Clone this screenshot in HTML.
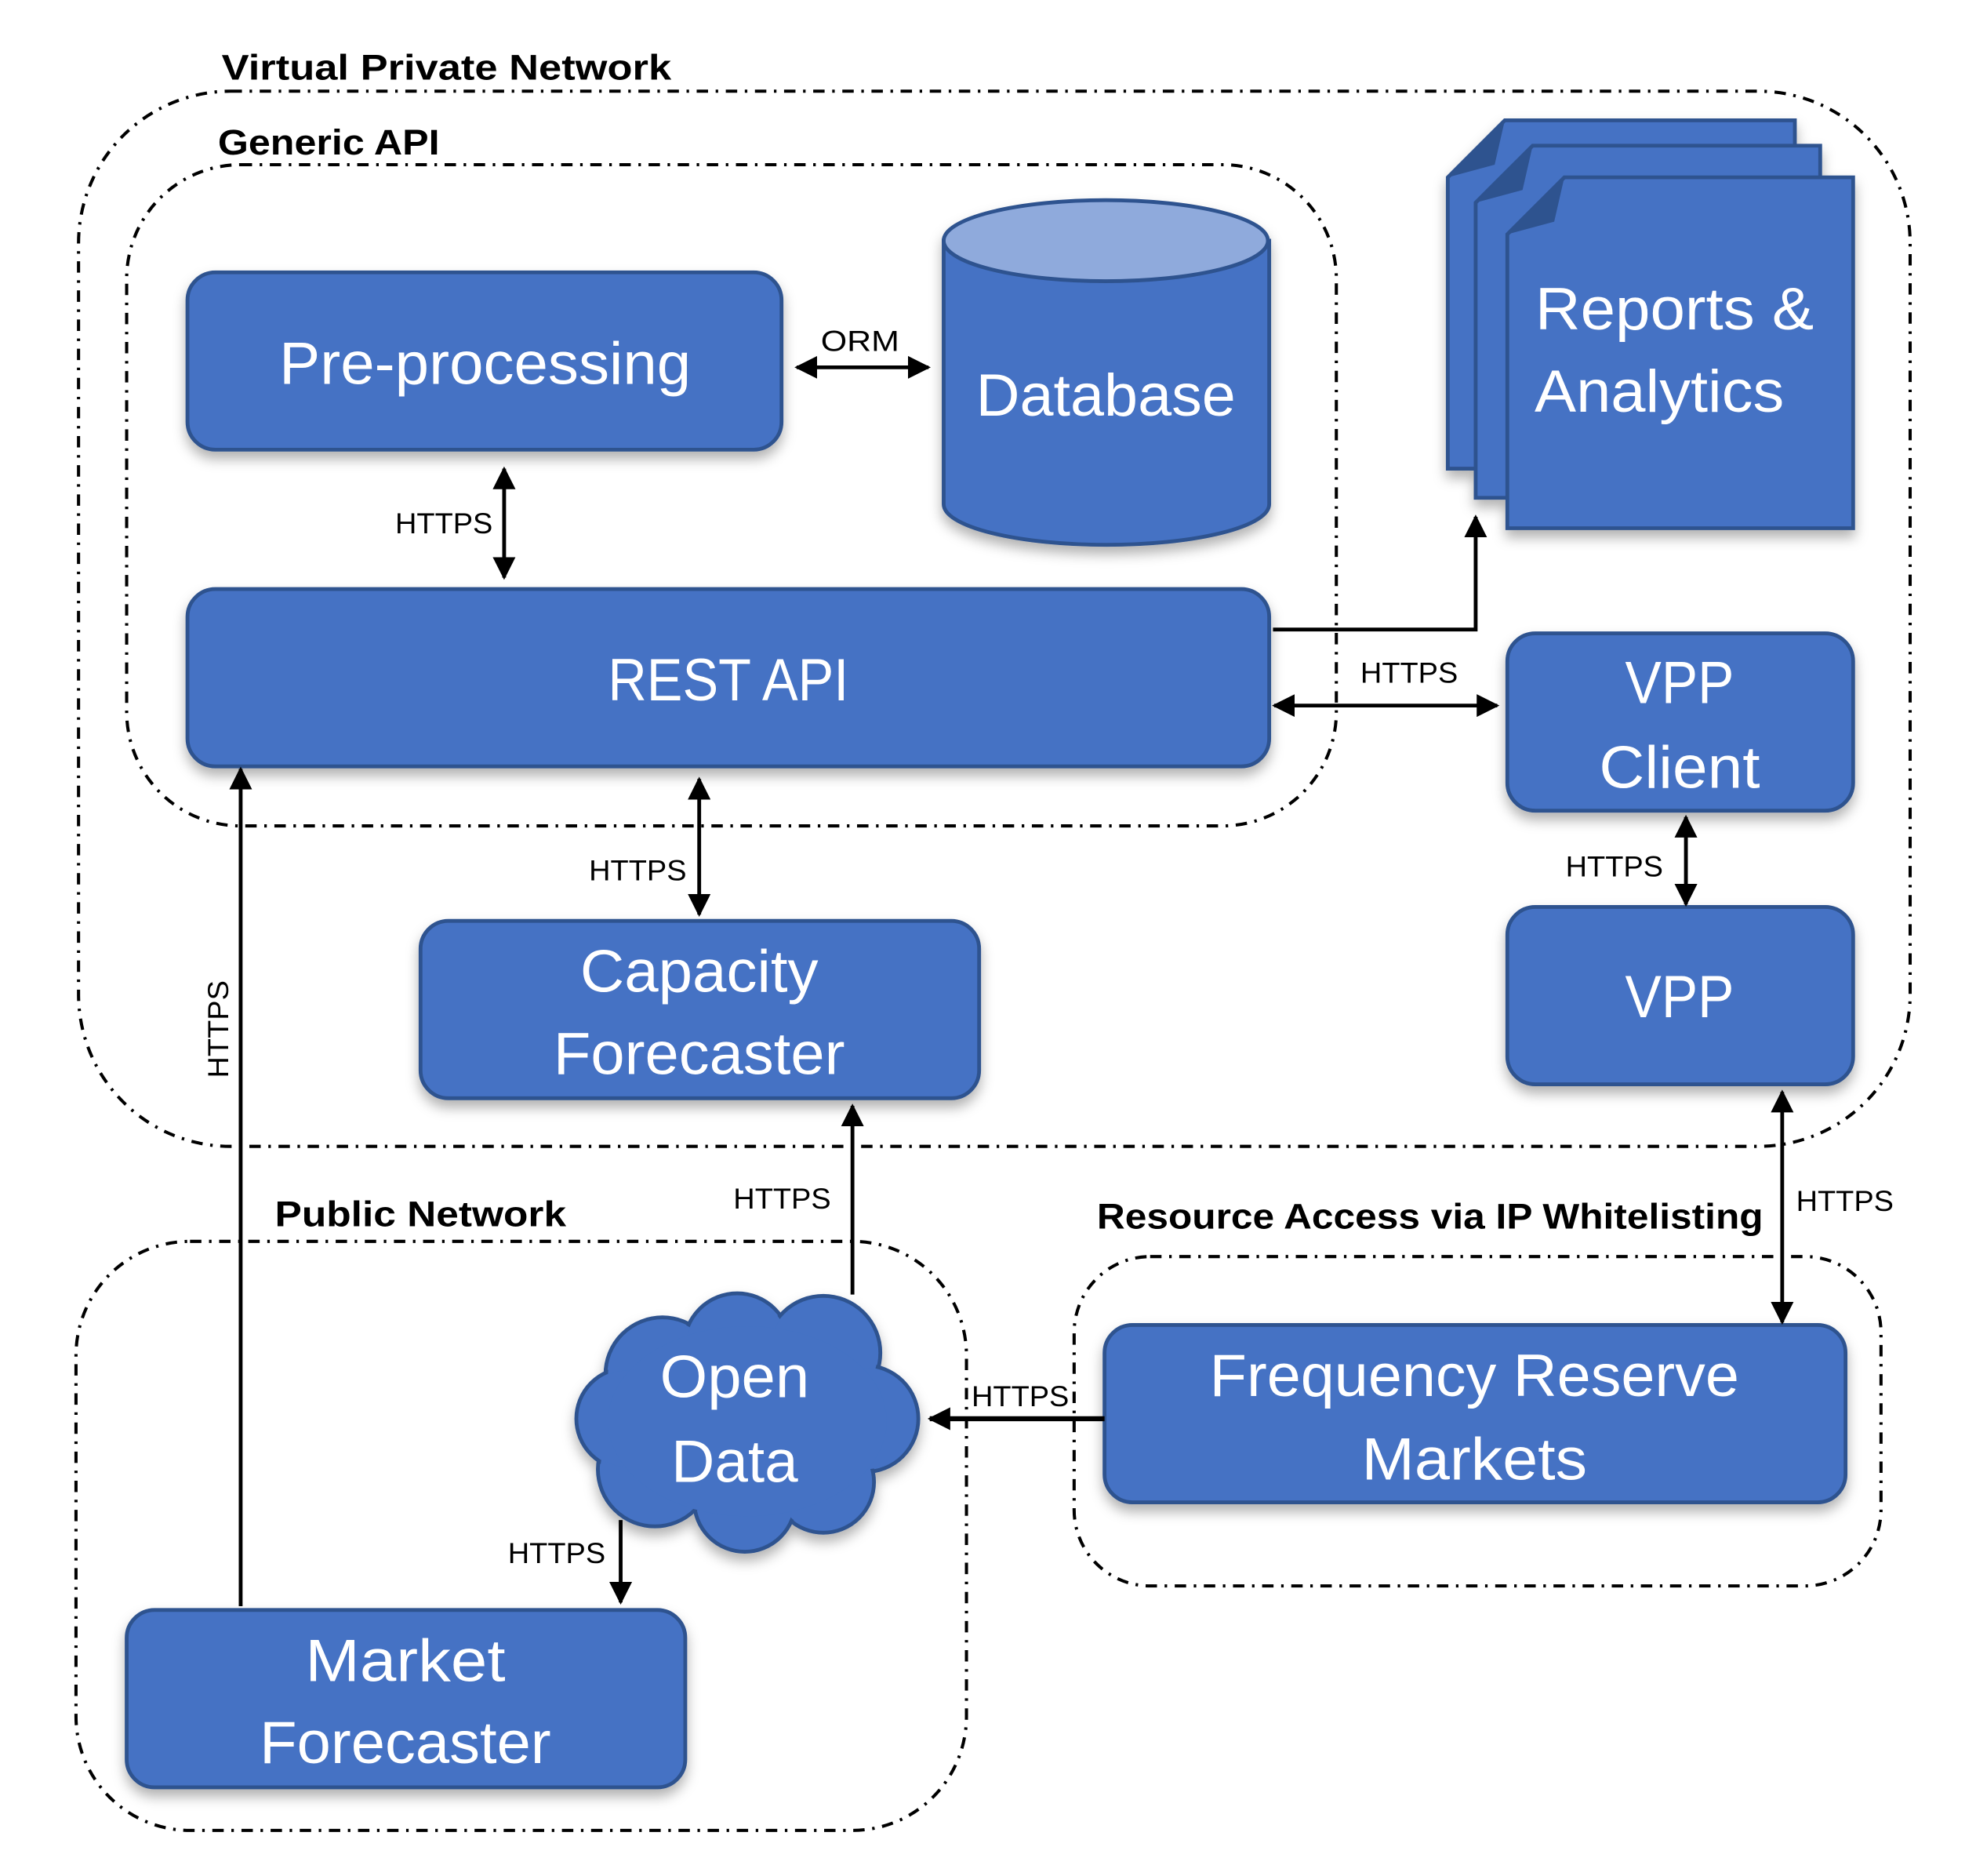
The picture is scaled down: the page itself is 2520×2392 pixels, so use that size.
<!DOCTYPE html>
<html><head><meta charset="utf-8"><style>
html,body{margin:0;padding:0;background:#fff;}
svg{display:block;}
.lbl{font-family:"Liberation Sans",sans-serif;font-weight:bold;font-size:28px;fill:#000;}
.sm{font-family:"Liberation Sans",sans-serif;font-size:23px;fill:#000;}
.big{font-family:"Liberation Sans",sans-serif;font-size:47px;fill:#fff;text-anchor:middle;}
.box{fill:#4472C4;stroke:#2F528F;stroke-width:3;}
.grp{fill:none;stroke:#000;stroke-width:2.5;stroke-dasharray:9 6 2 6;}
.ln{stroke:#000;stroke-width:3;fill:none;}
</style></head><body>
<svg width="2520" height="2392" viewBox="0 0 1560 1481" preserveAspectRatio="none" xmlns="http://www.w3.org/2000/svg">
<defs>
<marker id="ah2" viewBox="0 0 10 10" markerWidth="18" markerHeight="18" refX="9" refY="5" orient="auto-start-reverse" markerUnits="userSpaceOnUse"><path d="M0,0 L10,5 L0,10 z" fill="#000"/></marker>
<filter id="sh" x="-10%" y="-10%" width="120%" height="130%"><feDropShadow dx="0" dy="6" stdDeviation="5" flood-color="#000" flood-opacity="0.3"/></filter>
</defs>

<!-- groups -->
<text class="lbl" x="175" y="63" textLength="355" lengthAdjust="spacingAndGlyphs">Virtual Private Network</text>
<rect class="grp" x="62" y="72" width="1446" height="833" rx="120"/>
<text class="lbl" x="172" y="122" textLength="175" lengthAdjust="spacingAndGlyphs">Generic API</text>
<rect class="grp" x="100" y="130" width="955" height="522" rx="90"/>
<text class="lbl" x="217" y="968" textLength="230" lengthAdjust="spacingAndGlyphs">Public Network</text>
<rect class="grp" x="60" y="980" width="703" height="465" rx="90"/>
<text class="lbl" x="866" y="970" textLength="526" lengthAdjust="spacingAndGlyphs">Resource Access via IP Whitelisting</text>
<rect class="grp" x="848" y="992" width="637" height="260" rx="60"/>

<!-- boxes -->
<g filter="url(#sh)">
<rect class="box" x="148" y="215" width="469" height="140" rx="22"/>
<rect class="box" x="148" y="465" width="854" height="140" rx="22"/>
<rect class="box" x="1190" y="500" width="273" height="140" rx="22"/>
<rect class="box" x="1190" y="716" width="273" height="140" rx="22"/>
<rect class="box" x="332" y="727" width="441" height="140" rx="22"/>
<rect class="box" x="872" y="1046" width="585" height="140" rx="22"/>
<rect class="box" x="100" y="1271" width="441" height="140" rx="22"/>
<path class="box" d="M745,190 L745,398 A128,32 0 0 0 1002,398 L1002,190 Z"/>
<ellipse cx="873" cy="190" rx="128" ry="32" fill="#8FAADC" stroke="#2F528F" stroke-width="3"/>
<path class="box" d="M1188,95 L1417,95 L1417,370 L1143,370 L1143,140 Z"/>
<path fill="#2F528F" d="M1188,95 L1143,140 L1180,130 Z"/>
<path class="box" d="M1210,115 L1437,115 L1437,393 L1165,393 L1165,160 Z"/>
<path fill="#2F528F" d="M1210,115 L1165,160 L1202,150 Z"/>
<path class="box" d="M1235,140 L1463,140 L1463,417 L1190,417 L1190,185 Z"/>
<path fill="#2F528F" d="M1235,140 L1190,185 L1227,175 Z"/>
<g stroke="#2F528F" stroke-width="3" fill="#4472C4">
<circle cx="523" cy="1085" r="45"/><circle cx="582" cy="1063" r="42"/><circle cx="650" cy="1068" r="45"/>
<circle cx="683" cy="1120" r="42"/><circle cx="650" cy="1170" r="40"/><circle cx="588" cy="1185" r="40"/>
<circle cx="517" cy="1160" r="45"/><circle cx="495" cy="1120" r="40"/>
</g>
<g fill="#4472C4">
<circle cx="523" cy="1085" r="43"/><circle cx="582" cy="1063" r="40"/><circle cx="650" cy="1068" r="43"/>
<circle cx="683" cy="1120" r="40"/><circle cx="650" cy="1170" r="38"/><circle cx="588" cy="1185" r="38"/>
<circle cx="517" cy="1160" r="43"/><circle cx="495" cy="1120" r="38"/><ellipse cx="590" cy="1122" rx="110" ry="75"/>
</g>
</g>

<!-- texts -->
<text class="big" x="383" y="303" textLength="325" lengthAdjust="spacingAndGlyphs">Pre-processing</text>
<text class="big" x="873" y="328" textLength="205" lengthAdjust="spacingAndGlyphs">Database</text>
<text class="big" x="1322" y="260" textLength="220" lengthAdjust="spacingAndGlyphs">Reports &amp;</text>
<text class="big" x="1310" y="325" textLength="197" lengthAdjust="spacingAndGlyphs">Analytics</text>
<text class="big" x="575" y="553" textLength="190" lengthAdjust="spacingAndGlyphs">REST API</text>
<text class="big" x="1326" y="555" textLength="86" lengthAdjust="spacingAndGlyphs">VPP</text>
<text class="big" x="1326" y="622" textLength="127" lengthAdjust="spacingAndGlyphs">Client</text>
<text class="big" x="1326" y="803" textLength="86" lengthAdjust="spacingAndGlyphs">VPP</text>
<text class="big" x="552" y="783" textLength="188" lengthAdjust="spacingAndGlyphs">Capacity</text>
<text class="big" x="552" y="848" textLength="230" lengthAdjust="spacingAndGlyphs">Forecaster</text>
<text class="big" x="1164" y="1102" textLength="418" lengthAdjust="spacingAndGlyphs">Frequency Reserve</text>
<text class="big" x="1164" y="1168" textLength="178" lengthAdjust="spacingAndGlyphs">Markets</text>
<text class="big" x="320" y="1327" textLength="158" lengthAdjust="spacingAndGlyphs">Market</text>
<text class="big" x="320" y="1392" textLength="230" lengthAdjust="spacingAndGlyphs">Forecaster</text>
<text class="big" x="580" y="1103" textLength="118" lengthAdjust="spacingAndGlyphs">Open</text>
<text class="big" x="580" y="1170" textLength="100" lengthAdjust="spacingAndGlyphs">Data</text>

<!-- connectors -->
<g class="ln">
<line x1="629" y1="290" x2="733" y2="290" marker-start="url(#ah2)" marker-end="url(#ah2)"/>
<line x1="398" y1="370" x2="398" y2="456" marker-start="url(#ah2)" marker-end="url(#ah2)"/>
<polyline points="1005,497 1165,497 1165,408" marker-end="url(#ah2)"/>
<line x1="1006" y1="557" x2="1182" y2="557" marker-start="url(#ah2)" marker-end="url(#ah2)"/>
<line x1="552" y1="615" x2="552" y2="722" marker-start="url(#ah2)" marker-end="url(#ah2)"/>
<line x1="1331" y1="645" x2="1331" y2="714" marker-start="url(#ah2)" marker-end="url(#ah2)"/>
<line x1="190" y1="1268" x2="190" y2="607" marker-end="url(#ah2)"/>
<line x1="673" y1="1022" x2="673" y2="873" marker-end="url(#ah2)"/>
<line x1="1407" y1="862" x2="1407" y2="1044" marker-start="url(#ah2)" marker-end="url(#ah2)"/>
<line x1="872" y1="1120" x2="734" y2="1120" stroke-width="4" marker-end="url(#ah2)"/>
<line x1="490" y1="1200" x2="490" y2="1265" marker-end="url(#ah2)"/>
</g>

<!-- connector labels -->
<text class="sm" x="648" y="277" textLength="62" lengthAdjust="spacingAndGlyphs">ORM</text>
<text class="sm" x="312" y="421" textLength="77" lengthAdjust="spacingAndGlyphs">HTTPS</text>
<text class="sm" x="1074" y="539" textLength="77" lengthAdjust="spacingAndGlyphs">HTTPS</text>
<text class="sm" x="465" y="695" textLength="77" lengthAdjust="spacingAndGlyphs">HTTPS</text>
<text class="sm" x="1236" y="692" textLength="77" lengthAdjust="spacingAndGlyphs">HTTPS</text>
<text class="sm" x="180" y="851" transform="rotate(-90 180 851)" textLength="77" lengthAdjust="spacingAndGlyphs">HTTPS</text>
<text class="sm" x="579" y="954" textLength="77" lengthAdjust="spacingAndGlyphs">HTTPS</text>
<text class="sm" x="1418" y="956" textLength="77" lengthAdjust="spacingAndGlyphs">HTTPS</text>
<text class="sm" x="767" y="1110" textLength="77" lengthAdjust="spacingAndGlyphs">HTTPS</text>
<text class="sm" x="401" y="1234" textLength="77" lengthAdjust="spacingAndGlyphs">HTTPS</text>
</svg>
</body></html>
